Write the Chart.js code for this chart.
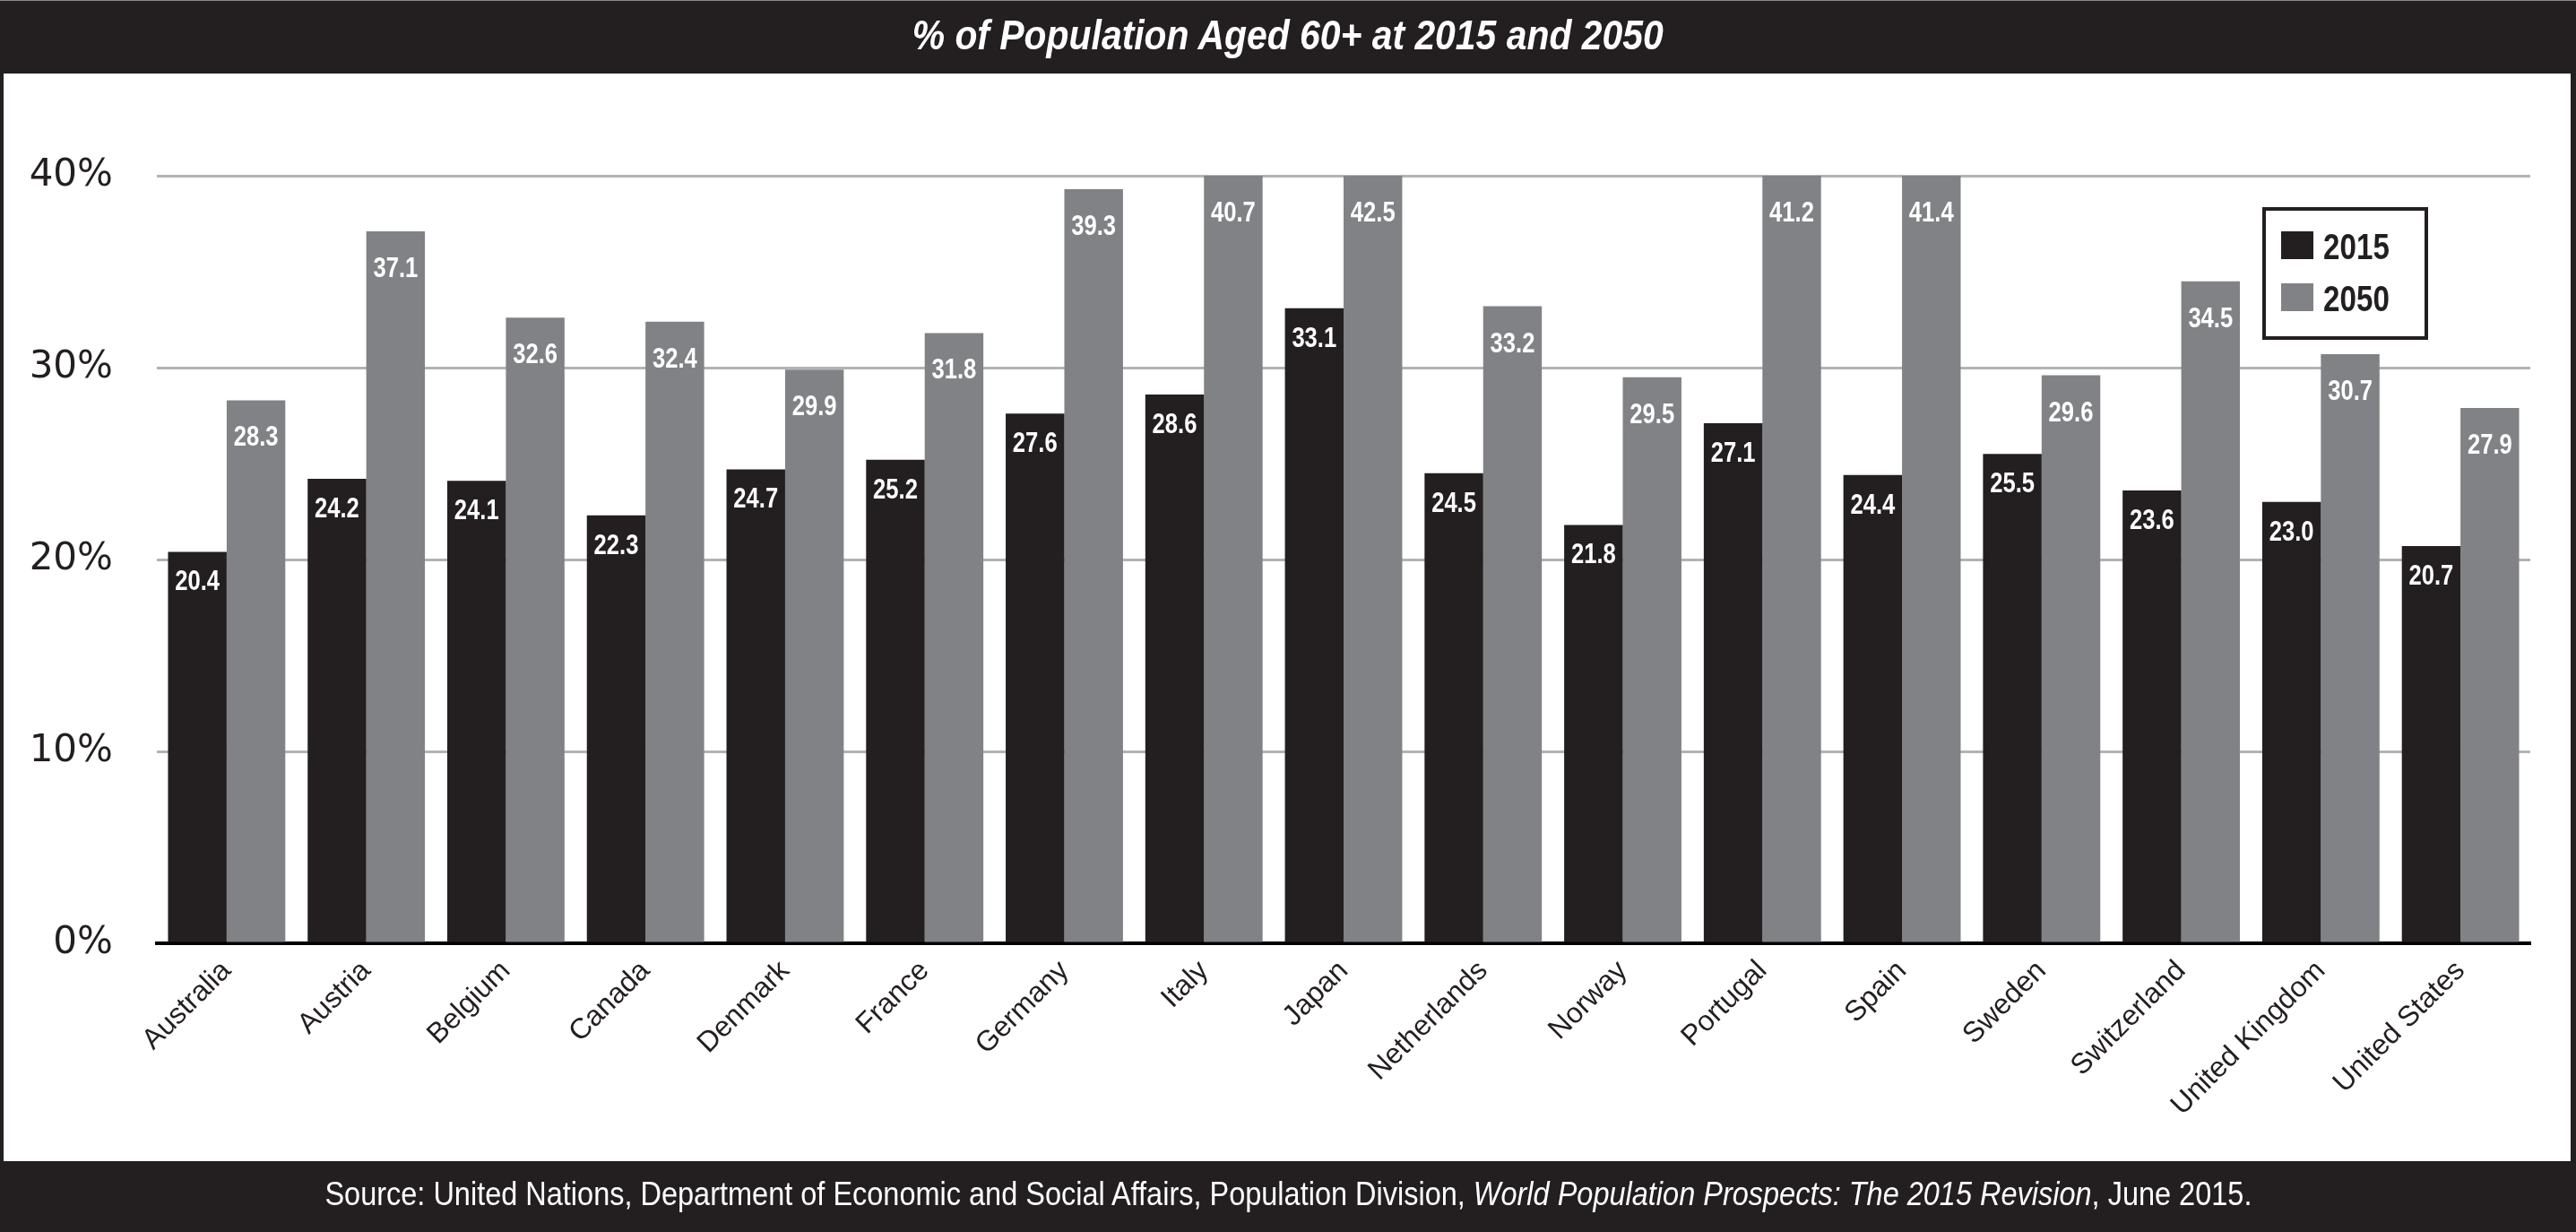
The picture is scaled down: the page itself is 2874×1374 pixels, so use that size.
<!DOCTYPE html>
<html>
<head>
<meta charset="utf-8">
<script src="https://cdn.jsdelivr.net/npm/chart.js@4.4.1/dist/chart.umd.min.js"></script>
<style>
  html, body { margin: 0; padding: 0; background: #231f20; width: 2874px; height: 1374px; overflow: hidden; }
  #topline { position: absolute; left: 0; top: 0; width: 2874px; height: 1px; background: #8a8a8a; }
  #white { position: absolute; left: 4px; top: 82px; width: 2864px; height: 1213px; background: #fff; }
  #chart { position: absolute; left: 0; top: 0; }
  .band { position: absolute; left: 0; width: 2874px; text-align: center; color: #fff; white-space: nowrap; }
  .band span { display: inline-block; transform-origin: 50% 50%; }
  #title { top: 15px; font: italic bold 47px/47px "Liberation Sans", Arial, sans-serif; }
  #footer { top: 1313px; font: 37px/37px "Liberation Sans", Arial, sans-serif; }
</style>
</head>
<body>
<div id="topline"></div>
<div id="white"></div>
<canvas id="chart" width="2874" height="1374"></canvas>
<div class="band" id="title"><span>% of Population Aged 60+ at 2015 and 2050</span></div>
<div class="band" id="footer"><span>Source: United Nations, Department of Economic and Social Affairs, Population Division, <i>World Population Prospects: The 2015 Revision</i>, June 2015.</span></div>
<script>
const categories = ['Australia', 'Austria', 'Belgium', 'Canada', 'Denmark', 'France', 'Germany', 'Italy', 'Japan', 'Netherlands', 'Norway', 'Portugal', 'Spain', 'Sweden', 'Switzerland', 'United Kingdom', 'United States'];
const values2015 = [20.4, 24.2, 24.1, 22.3, 24.7, 25.2, 27.6, 28.6, 33.1, 24.5, 21.8, 27.1, 24.4, 25.5, 23.6, 23.0, 20.7];
const values2050 = [28.3, 37.1, 32.6, 32.4, 29.9, 31.8, 39.3, 40.7, 42.5, 33.2, 29.5, 41.2, 41.4, 29.6, 34.5, 30.7, 27.9];
const seriesNames = ['2015', '2050'];
const yTickValues = [0, 10, 20, 30, 40];

// squeeze header/footer text to the condensed width of the original
function squeeze(id, target) {
  const s = document.querySelector('#' + id + ' span');
  const w = s.getBoundingClientRect().width;
  s.style.transform = 'scaleX(' + (target / w) + ')';
}
squeeze('title', 838);
squeeze('footer', 2150);

const DARK = '#231f20';
const GRAY = '#818285';

const valueLabels = {
  id: 'valueLabels',
  afterDatasetsDraw(chart) {
    const { ctx, chartArea } = chart;
    chart.data.datasets.forEach((ds, di) => {
      const meta = chart.getDatasetMeta(di);
      meta.data.forEach((bar, i) => {
        const top = Math.max(bar.y, chartArea.top);
        ctx.save();
        ctx.font = 'bold 32px "Liberation Sans", Arial, sans-serif';
        ctx.fillStyle = '#ffffff';
        ctx.textAlign = 'center';
        ctx.textBaseline = 'alphabetic';
        ctx.translate(bar.x, top + (di === 0 ? 43 : 51));
        ctx.scale(0.8, 1);
        ctx.fillText(ds.data[i].toFixed(1), 0, 0);
        ctx.restore();
      });
    });
  }
};

const boxLegend = {
  id: 'boxLegend',
  afterDraw(chart) {
    const ctx = chart.ctx;
    ctx.save();
    ctx.strokeStyle = DARK;
    ctx.lineWidth = 4;
    ctx.strokeRect(2526, 233, 181, 144);
    chart.data.datasets.forEach((ds, i) => {
      const y = 258 + i * 58;
      ctx.fillStyle = ds.backgroundColor;
      ctx.fillRect(2545, y, 36, 31);
      ctx.save();
      ctx.fillStyle = DARK;
      ctx.font = 'bold 40px "Liberation Sans", Arial, sans-serif';
      ctx.textAlign = 'left';
      ctx.textBaseline = 'alphabetic';
      ctx.translate(2592, y + 31);
      ctx.scale(0.83, 1);
      ctx.fillText(ds.label, 0, 0);
      ctx.restore();
    });
    ctx.restore();
  }
};

new Chart(document.getElementById('chart'), {
  type: 'bar',
  data: {
    labels: categories,
    datasets: [
      { label: seriesNames[0], data: values2015, backgroundColor: DARK, borderWidth: 0 },
      { label: seriesNames[1], data: values2050, backgroundColor: GRAY, borderWidth: 0 }
    ]
  },
  options: {
    responsive: false,
    animation: false,
    devicePixelRatio: 1,
    datasets: { bar: { categoryPercentage: 0.84, barPercentage: 1.0 } },
    layout: { padding: { top: 196, left: 0, right: 51, bottom: 0 } },
    plugins: { legend: { display: false }, title: { display: false }, tooltip: { enabled: false } },
    scales: {
      x: {
        grid: { display: false, drawTicks: false },
        border: { display: true, color: '#000000', width: 4 },
        ticks: {
          color: DARK,
          font: { family: '"Liberation Sans", Arial, sans-serif', size: 32 },
          minRotation: 45, maxRotation: 45, padding: 12, autoSkip: false
        },
        afterFit(scale) { scale.height = 322; }
      },
      y: {
        min: 0, max: 40,
        afterBuildTicks(scale) { scale.ticks = yTickValues.map(v => ({ value: v })); },
        grid: { color: '#b3b3b3', lineWidth: 3, drawTicks: false },
        border: { display: false },
        ticks: {
          color: DARK,
          font: { family: '"DejaVu Sans", sans-serif', size: 42 },
          padding: 49,
          callback: v => v + '%'
        },
        afterFit(scale) { scale.width = 175; }
      }
    }
  },
  plugins: [valueLabels, boxLegend]
});
</script>
</body>
</html>
